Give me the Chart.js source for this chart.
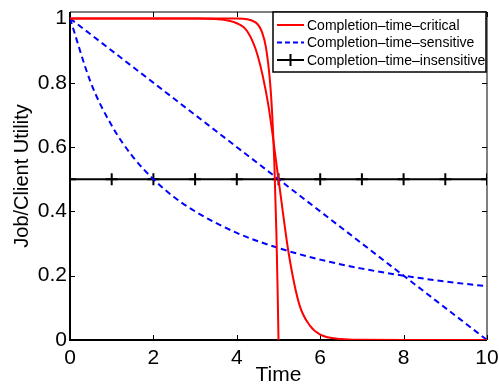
<!DOCTYPE html>
<html>
<head>
<meta charset="utf-8">
<script src="https://cdn.jsdelivr.net/npm/chart.js@4.4.1/dist/chart.umd.min.js"></script>
<style>
  body { margin: 0; background: #fff; }
  #wrap { width: 499px; height: 385px; }
</style>
</head>
<body>
<div id="wrap"><canvas id="utilityChart" width="499" height="385"></canvas></div>
<script>
// values
const critT = [0, 1, 2, 3, 3.5, 4, 4.25, 4.5, 4.75, 5, 5.25, 5.5, 5.75, 6, 6.5, 7, 8, 10];
const critSoft = [1, 1, 1, 0.9998, 0.998, 0.985, 0.96, 0.885, 0.735, 0.5, 0.265, 0.11, 0.045, 0.017, 0.003, 0.0005, 0, 0];
const steepT = [0, 1, 2, 3, 4, 4.25, 4.5, 4.6, 4.7, 4.8, 4.85, 4.9, 4.95, 4.98, 5];
const critHard = [1, 1, 1, 1, 0.9997, 0.9975, 0.982, 0.959, 0.909, 0.798, 0.699, 0.551, 0.33, 0.148, 0];
const linT = [0, 10];
const sensLinear = [1, 0];
const hypT = [0, 0.5, 1, 1.5, 2, 2.5, 3, 4, 5, 6, 7, 8, 9, 10];
const sensDecay = [1, 0.8, 0.667, 0.571, 0.5, 0.444, 0.4, 0.333, 0.286, 0.25, 0.222, 0.2, 0.182, 0.167];
const insT = [0, 1, 2, 3, 4, 5, 6, 7, 8, 9, 10];
const insFlat = [0.5, 0.5, 0.5, 0.5, 0.5, 0.5, 0.5, 0.5, 0.5, 0.5, 0.5];
const xTicks = [0, 2, 4, 6, 8, 10];
const yTicks = [0, 0.2, 0.4, 0.6, 0.8, 1];
const legendLabels = ['Completion\u2013time\u2013critical', 'Completion\u2013time\u2013sensitive', 'Completion\u2013time\u2013insensitive'];

const FONT = "'Liberation Sans', Arial, Helvetica, sans-serif";

function pts(xs, ys) {
  return xs.map((x, i) => ({ x: x, y: ys[i] }));
}

// box + inward ticks, matlab style
const boxPlugin = {
  id: 'box',
  beforeDatasetsDraw(chart) {
    const ctx = chart.ctx;
    const a = chart.chartArea;
    const xs = chart.scales.x, ys = chart.scales.y;
    ctx.save();
    ctx.strokeStyle = '#000';
    ctx.lineWidth = 1;
    ctx.beginPath();
    ctx.moveTo(a.left, a.top); ctx.lineTo(a.right, a.top);
    ctx.moveTo(a.right, a.top); ctx.lineTo(a.right, a.bottom);
    xTicks.forEach(v => {
      const px = Math.round(xs.getPixelForValue(v)) + 0.5;
      ctx.moveTo(px, a.bottom); ctx.lineTo(px, a.bottom - 5);
      ctx.moveTo(px, a.top); ctx.lineTo(px, a.top + 5);
    });
    yTicks.forEach(v => {
      const py = Math.round(ys.getPixelForValue(v)) + 0.5;
      ctx.moveTo(a.left, py); ctx.lineTo(a.left + 5, py);
      ctx.moveTo(a.right, py); ctx.lineTo(a.right - 5, py);
    });
    ctx.stroke();
    ctx.lineWidth = 2;
    ctx.beginPath();
    ctx.moveTo(a.left, a.top); ctx.lineTo(a.left, a.bottom); ctx.lineTo(a.right, a.bottom);
    ctx.stroke();
    ctx.restore();
  },
  afterDraw(chart) {
    // legend box in the top right corner
    const ctx = chart.ctx;
    const a = chart.chartArea;
    const bx = 273, by = a.top, bw = a.right - 1 - bx, bh = 60;
    ctx.save();
    ctx.fillStyle = '#fff';
    ctx.fillRect(bx, by, bw, bh);
    ctx.strokeStyle = '#000';
    ctx.lineWidth = 1.5;
    ctx.strokeRect(bx, by, bw, bh);
    const rows = [
      { color: '#ff0000', dash: [], cross: false },
      { color: '#0000ff', dash: [5, 3], cross: false },
      { color: '#000000', dash: [], cross: true }
    ];
    ctx.font = '14px ' + FONT;
    ctx.textBaseline = 'middle';
    rows.forEach((r, i) => {
      const y = by + 13 + i * 17.5;
      ctx.strokeStyle = r.color;
      ctx.lineWidth = 2;
      ctx.setLineDash(r.dash);
      ctx.beginPath();
      ctx.moveTo(bx + 4, y); ctx.lineTo(bx + 31, y);
      ctx.stroke();
      ctx.setLineDash([]);
      if (r.cross) {
        ctx.beginPath();
        ctx.moveTo(bx + 17.5, y - 6); ctx.lineTo(bx + 17.5, y + 6);
        ctx.stroke();
      }
      ctx.fillStyle = '#000';
      ctx.fillText(legendLabels[i], bx + 34, y + 1);
    });
    ctx.restore();
  }
};

const ctx = document.getElementById('utilityChart').getContext('2d');
const utilityChart = new Chart(ctx, {
  type: 'line',
  data: {
    datasets: [
      {
        label: legendLabels[0],
        data: pts(critT, critSoft),
        borderColor: '#ff0000',
        borderWidth: 2,
        pointRadius: 0,
        cubicInterpolationMode: 'monotone'
      },
      {
        label: legendLabels[0] + ' (hard)',
        data: pts(steepT, critHard),
        borderColor: '#ff0000',
        borderWidth: 2,
        pointRadius: 0,
        cubicInterpolationMode: 'monotone'
      },
      {
        label: legendLabels[1],
        data: pts(linT, sensLinear),
        borderColor: '#0000ff',
        borderWidth: 2,
        borderDash: [6, 4],
        pointRadius: 0
      },
      {
        label: legendLabels[1] + ' (decay)',
        data: pts(hypT, sensDecay),
        borderColor: '#0000ff',
        borderWidth: 2,
        borderDash: [6, 4],
        pointRadius: 0,
        cubicInterpolationMode: 'monotone'
      },
      {
        label: legendLabels[2],
        data: pts(insT, insFlat),
        borderColor: '#000000',
        borderWidth: 2,
        pointStyle: 'cross',
        pointRadius: 6,
        pointBorderWidth: 2,
        pointBorderColor: '#000000'
      }
    ]
  },
  options: {
    responsive: false,
    animation: false,
    devicePixelRatio: 1,
    layout: { padding: { top: 12, right: 12, left: 0, bottom: 0 } },
    plugins: {
      legend: { display: false },
      tooltip: { enabled: false }
    },
    scales: {
      x: {
        type: 'linear',
        min: 0,
        max: 10,
        grid: { display: false, drawTicks: false },
        border: { display: false },
        afterBuildTicks: s => { s.ticks = xTicks.map(v => ({ value: v })); },
        afterFit: s => { s.height = 45; s.paddingLeft = 0; s.paddingRight = 0; },
        ticks: {
          padding: 6,
          maxRotation: 0,
          color: '#000',
          font: { family: FONT, size: 21 },
          callback: v => String(v)
        },
        title: {
          display: true,
          text: 'Time',
          color: '#000',
          font: { family: FONT, size: 21 },
          padding: { top: 0, bottom: -3 }
        }
      },
      y: {
        min: 0,
        max: 1.02,
        grid: { display: false, drawTicks: false },
        border: { display: false },
        afterBuildTicks: s => { s.ticks = yTicks.map(v => ({ value: v })); },
        afterFit: s => { s.width = 70; s.paddingTop = 0; s.paddingBottom = 0; },
        ticks: {
          padding: 3,
          color: '#000',
          font: { family: FONT, size: 21 },
          callback: v => String(v)
        },
        title: {
          display: true,
          text: 'Job/Client Utility',
          color: '#000',
          font: { family: FONT, size: 20 },
          padding: { top: 10, bottom: 0 }
        }
      }
    }
  },
  plugins: [boxPlugin]
});
</script>
</body>
</html>
